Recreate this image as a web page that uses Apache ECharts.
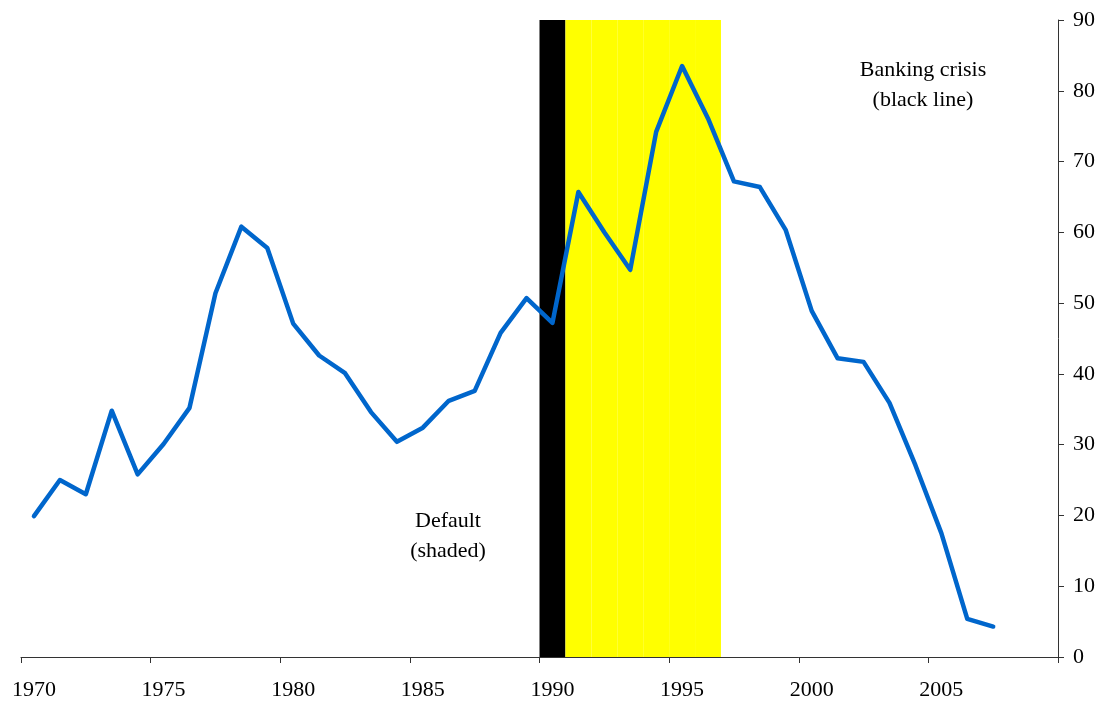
<!DOCTYPE html>
<html>
<head>
<meta charset="utf-8">
<script src="https://cdn.jsdelivr.net/npm/echarts@6/dist/echarts.min.js"></script>
<style>
  html, body { margin: 0; padding: 0; background: #fff; }
  #chart { width: 1104px; height: 702px; }
</style>
</head>
<body>
<div id="chart"></div>
<script>
// years on the category axis
const years = [];
for (let y = 1970; y <= 2009; y++) years.push(String(y));

// series values (1970..2007)
const debtValues = [
    19.9, 25.0, 23.0, 34.8, 25.8, 30.1, 35.2, 51.4, 60.8, 57.8,
    47.1, 42.6, 40.1, 34.6, 30.4, 32.4, 36.2, 37.6, 45.8, 50.7,
    47.2, 65.7, 60.0, 54.7, 74.2, 83.5, 76.1, 67.2, 66.4, 60.3,
    48.9, 42.2, 41.7, 35.9, 27.1, 17.5, 5.4, 4.3
];

const bankingCrisisYears = ['1990'];
const defaultYears = ['1991', '1992', '1993', '1994', '1995', '1996'];
const yTicks = [0, 10, 20, 30, 40, 50, 60, 70, 80, 90];

const FONT = '"Liberation Serif", "DejaVu Serif", serif';

const bandData = years.map(y => {
    if (bankingCrisisYears.includes(y)) return {value: 90, itemStyle: {color: '#000000'}};
    if (defaultYears.includes(y)) return {value: 90, itemStyle: {color: '#FFFF00'}};
    return '-';
});

const chart = echarts.init(document.getElementById('chart'));
chart.setOption({
    animation: false,
    grid: {left: 21, right: 46, top: 20, bottom: 45},
    xAxis: {
        type: 'category',
        data: years,
        boundaryGap: true,
        axisLine: {lineStyle: {color: '#333', width: 1}},
        axisTick: {show: true, interval: 4, length: 6, lineStyle: {color: '#333', width: 1}},
        axisLabel: {
            interval: 4,
            margin: 22,
            color: '#000',
            fontFamily: FONT,
            fontSize: 22
        },
        splitLine: {show: false}
    },
    yAxis: {
        type: 'value',
        position: 'right',
        min: yTicks[0],
        max: yTicks[yTicks.length - 1],
        interval: 10,
        axisLine: {show: true, lineStyle: {color: '#333', width: 1}},
        axisTick: {show: true, length: 6, lineStyle: {color: '#333'}},
        axisLabel: {
            margin: 15,
            color: '#000',
            fontFamily: FONT,
            fontSize: 22
        },
        splitLine: {show: false}
    },
    series: [
        {
            type: 'bar',
            data: bandData,
            barCategoryGap: '0%',
            silent: true,
            z: 1
        },
        {
            type: 'line',
            data: debtValues,
            symbol: 'none',
            lineStyle: {color: '#0066CC', width: 4.5, join: 'round', cap: 'round'},
            z: 3
        }
    ],
    graphic: [
        {
            type: 'text',
            x: 448, y: 506,
            style: {
                text: 'Default\n(shaded)',
                font: '22px ' + FONT,
                fill: '#000',
                align: 'center',
                lineHeight: 30
            }
        },
        {
            type: 'text',
            x: 923, y: 55,
            style: {
                text: 'Banking crisis\n(black line)',
                font: '22px ' + FONT,
                fill: '#000',
                align: 'center',
                lineHeight: 30
            }
        }
    ]
});
</script>
</body>
</html>
